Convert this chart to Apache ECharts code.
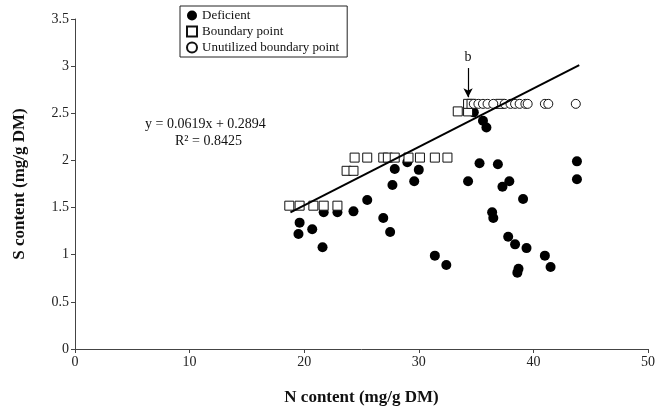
<!DOCTYPE html>
<html>
<head>
<meta charset="utf-8">
<script src="https://cdn.jsdelivr.net/npm/echarts@6/dist/echarts.min.js"></script>
<style>
  html, body { margin: 0; padding: 0; background: #fff; }
  #chart { width: 659px; height: 409px; }
</style>
</head>
<body>
<div id="chart"></div>
<script>
// values
const deficientN = [19.6, 19.5, 20.7, 21.6, 21.7, 22.9, 24.3, 25.5, 26.9, 27.5, 27.7, 27.9, 29.0, 29.6, 30.0, 31.4, 32.4, 34.3, 34.8, 35.3, 35.6, 35.9, 36.4, 36.5, 36.9, 37.3, 37.9, 37.8, 38.4, 38.7, 38.6, 39.1, 39.4, 41.0, 41.5, 43.8, 43.8]
const deficientS = [1.34, 1.22, 1.27, 1.08, 1.45, 1.45, 1.46, 1.58, 1.39, 1.24, 1.74, 1.91, 1.98, 1.78, 1.90, 0.99, 0.89, 1.78, 2.51, 1.97, 2.42, 2.35, 1.45, 1.39, 1.96, 1.72, 1.78, 1.19, 1.11, 0.85, 0.81, 1.59, 1.07, 0.99, 0.87, 1.99, 1.80]

const boundaryN = [18.7, 19.6, 20.8, 21.7, 22.9, 23.7, 24.3, 24.4, 25.5, 26.9, 27.3, 27.9, 29.1, 30.1, 31.4, 32.5, 33.4, 34.3, 34.3, 34.6, 37.1]
const boundaryS = [1.52, 1.52, 1.52, 1.52, 1.52, 1.89, 1.89, 2.03, 2.03, 2.03, 2.03, 2.03, 2.03, 2.03, 2.03, 2.03, 2.52, 2.52, 2.6, 2.6, 2.6]

const unusedN = [34.8, 35.2, 35.6, 36.0, 36.5, 37.5, 38.0, 38.4, 38.8, 39.3, 39.5, 41.0, 41.3, 43.7]
const unusedS = [2.6, 2.6, 2.6, 2.6, 2.6, 2.6, 2.6, 2.6, 2.6, 2.6, 2.6, 2.6, 2.6, 2.6]

// regression line end points
const trendN = [18.8, 44]
const trendS = [1.45, 3.01]

// arrow "b"
const arrowN = 34.3
const arrowS = [2.98, 2.67]

const xTicks = { min: 0, max: 50, interval: 10 }
const yTicks = { min: 0, max: 3.5, interval: 0.5 }

const pair = (xs, ys) => xs.map((x, i) => [x, ys[i]])

const font = '"Liberation Serif", "Times New Roman", serif'

const chart = echarts.init(document.getElementById('chart'))

const option = {
  animation: false,
  textStyle: { fontFamily: font, color: '#111' },
  grid: {
    left: 75,
    right: 11,
    top: 19,
    bottom: 60,
    containLabel: false,
    outerBoundsMode: 'none',
  },
  legend: {
    data: ['Deficient', 'Boundary point', 'Unutilized boundary point'],
    orient: 'vertical',
    left: 180,
    top: 6,
    padding: [3, 8, 3, 6],
    itemGap: 3,
    itemWidth: 10,
    itemHeight: 10,
    borderColor: '#222',
    borderWidth: 1,
    textStyle: { fontFamily: font, fontSize: 13, color: '#111' },
  },
  xAxis: {
    type: 'value',
    ...xTicks,
    name: 'N content (mg/g DM)',
    nameLocation: 'middle',
    nameGap: 40,
    nameTextStyle: { fontFamily: font, fontSize: 17, fontWeight: 'bold', color: '#111' },
    axisLine: { lineStyle: { color: '#444' } },
    axisTick: { inside: false, length: 4, lineStyle: { color: '#444' } },
    axisLabel: { fontFamily: font, fontSize: 14, color: '#222', margin: 6 },
    splitLine: { show: false },
  },
  yAxis: {
    type: 'value',
    ...yTicks,
    name: 'S content (mg/g DM)',
    nameLocation: 'middle',
    nameGap: 47,
    nameTextStyle: { fontFamily: font, fontSize: 17, fontWeight: 'bold', color: '#111' },
    axisLine: { show: true, lineStyle: { color: '#444' } },
    axisTick: { show: true, inside: false, length: 4, lineStyle: { color: '#444' } },
    axisLabel: { fontFamily: font, fontSize: 14, color: '#222', margin: 6 },
    splitLine: { show: false },
  },
  graphic: [
    {
      type: 'text',
      left: 145,
      top: 117,
      style: { text: 'y = 0.0619x + 0.2894', font: '14px ' + font, fill: '#111' },
    },
    {
      type: 'text',
      left: 175,
      top: 134,
      style: { text: 'R² = 0.8425', font: '14px ' + font, fill: '#111' },
    },
  ],
  series: [
    {
      name: 'Deficient',
      type: 'scatter',
      symbol: 'circle',
      symbolSize: 10,
      itemStyle: { color: '#000', opacity: 1 },
      data: pair(deficientN, deficientS),
      z: 2,
    },
    {
      name: 'Boundary point',
      type: 'scatter',
      symbol: 'rect',
      symbolSize: 9,
      itemStyle: { color: '#fff', borderColor: '#111', borderWidth: 1, opacity: 1 },
      data: pair(boundaryN, boundaryS),
      z: 3,
    },
    {
      name: 'Unutilized boundary point',
      type: 'scatter',
      symbol: 'circle',
      symbolSize: 9,
      itemStyle: { color: '#fff', borderColor: '#111', borderWidth: 1, opacity: 1 },
      data: pair(unusedN, unusedS),
      z: 4,
    },
    {
      name: 'trend',
      type: 'line',
      symbol: 'none',
      silent: true,
      lineStyle: { color: '#000', width: 2 },
      data: pair(trendN, trendS),
      z: 5,
      markLine: {
        silent: true,
        symbol: ['none', 'arrow'],
        symbolSize: [7, 9],
        lineStyle: { color: '#000', width: 1.2, type: 'solid' },
        label: {
          show: true,
          position: 'start',
          formatter: 'b',
          fontFamily: font,
          fontSize: 14,
          color: '#111',
          distance: 4,
        },
        data: [[{ coord: [arrowN, arrowS[0]] }, { coord: [arrowN, arrowS[1]] }]],
      },
    },
  ],
}

option && chart.setOption(option)
</script>
</body>
</html>
